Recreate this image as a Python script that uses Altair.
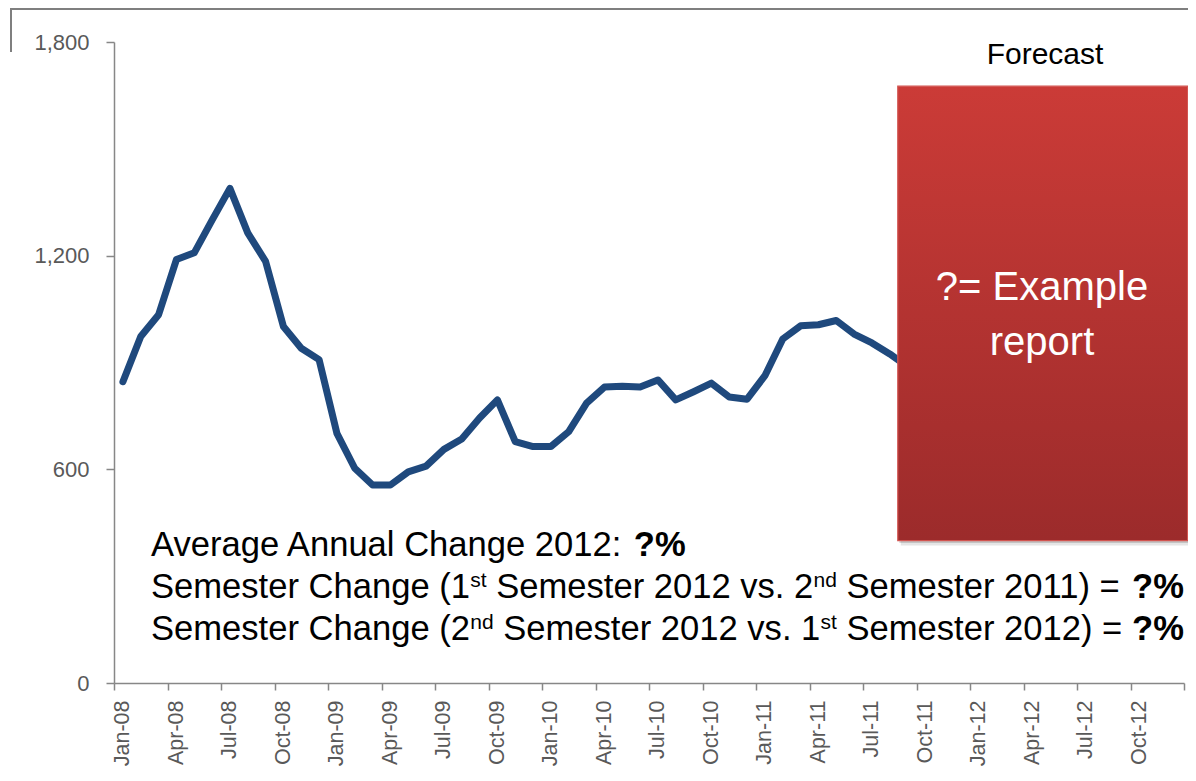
import json
import altair as alt
import pandas as pd

# ---------------- data ----------------
months = [
    "Jan-08", "Feb-08", "Mar-08", "Apr-08", "May-08", "Jun-08", "Jul-08", "Aug-08", "Sep-08", "Oct-08", "Nov-08", "Dec-08",
    "Jan-09", "Feb-09", "Mar-09", "Apr-09", "May-09", "Jun-09", "Jul-09", "Aug-09", "Sep-09", "Oct-09", "Nov-09", "Dec-09",
    "Jan-10", "Feb-10", "Mar-10", "Apr-10", "May-10", "Jun-10", "Jul-10", "Aug-10", "Sep-10", "Oct-10", "Nov-10", "Dec-10",
    "Jan-11", "Feb-11", "Mar-11", "Apr-11", "May-11", "Jun-11", "Jul-11", "Aug-11", "Sep-11",
]
values = [
    846, 973, 1034, 1189, 1208, 1300, 1389, 1264, 1184, 1001, 940, 908,
    701, 603, 556, 556, 593, 609, 656, 685, 744, 795, 678, 664,
    664, 706, 786, 831, 833, 831, 851, 795, 818, 842, 803, 797,
    863, 966, 1003, 1006, 1018, 980, 955, 924, 888,
]
tick_labels = [
    "Jan-08", "Apr-08", "Jul-08", "Oct-08", "Jan-09", "Apr-09", "Jul-09", "Oct-09",
    "Jan-10", "Apr-10", "Jul-10", "Oct-10", "Jan-11", "Apr-11", "Jul-11", "Oct-11",
    "Jan-12", "Apr-12", "Jul-12", "Oct-12",
]
y_ticks = [0, 600, 1200, 1800]
n_months_axis = 60  # Jan-08 .. Dec-12

df = pd.DataFrame({
    "month": months,
    "value": values,
    "pos": [i + 0.5 for i in range(len(months))],
})

# ---------------- styling / layout constants ----------------
W, H = 1070, 641
AXIS_FONT = "Liberation Sans, Arial"
TEXT_FONT = "Liberation Sans, Arial"
GREY = "#878787"
LABEL_GREY = "#595959"
LINE_BLUE = "#1F497D"

one = pd.DataFrame({"k": [0]})

label_expr = (
    f"datum.value < {n_months_axis} ? {json.dumps(tick_labels)}[round(datum.value / 3)] : ''"
)

x_enc = alt.X(
    "pos:Q",
    title=None,
    scale=alt.Scale(domain=[0, n_months_axis], nice=False, zero=False),
    axis=alt.Axis(
        values=list(range(0, n_months_axis + 1, 3)),
        labelExpr=label_expr,
        labelAngle=-90,
        labelAlign="right",
        labelBaseline="middle",
        labelOffset=8.9,
        labelPadding=10,
        labelFont=AXIS_FONT,
        labelFontSize=21.5,
        labelColor=LABEL_GREY,
        labelOverlap=False,
        tickSize=7,
        tickColor=GREY,
        tickWidth=1.5,
        domainColor=GREY,
        domainWidth=1.5,
        grid=False,
    ),
)
y_enc = alt.Y(
    "value:Q",
    title=None,
    scale=alt.Scale(domain=[0, 1800], nice=False),
    axis=alt.Axis(
        values=y_ticks,
        format=",.0f",
        labelFont=AXIS_FONT,
        labelFontSize=22,
        labelColor=LABEL_GREY,
        labelPadding=17,
        tickSize=8,
        tickColor=GREY,
        tickWidth=1.5,
        domainColor=GREY,
        domainWidth=1.5,
        grid=False,
    ),
)

line = alt.Chart(df).mark_line(
    color=LINE_BLUE, strokeWidth=7, strokeCap="round", strokeJoin="round"
).encode(x=x_enc, y=y_enc)

# forecast box (in data units)
box_df = pd.DataFrame({"x0": [43.95], "x1": [60.2], "y0": [400], "y1": [1676]})
shadow1 = alt.Chart(box_df).mark_rect(color="#000000", opacity=0.10, xOffset=3, yOffset=5, x2Offset=3, y2Offset=5).encode(
    x="x0:Q", x2="x1:Q", y="y0:Q", y2="y1:Q")
shadow2 = alt.Chart(box_df).mark_rect(color="#000000", opacity=0.15, xOffset=1.5, yOffset=2.5, x2Offset=1.5, y2Offset=2.5).encode(
    x="x0:Q", x2="x1:Q", y="y0:Q", y2="y1:Q")
box = alt.Chart(box_df).mark_rect(
    fill=alt.Gradient(
        gradient="linear",
        stops=[alt.GradientStop(color="#CB3B37", offset=0),
               alt.GradientStop(color="#9C2B2B", offset=1)],
        x1=0, x2=0, y1=0, y2=1,
    ),
    stroke="#D25450",
    strokeWidth=1.2,
).encode(x="x0:Q", x2="x1:Q", y="y0:Q", y2="y1:Q")

box_text = alt.Chart(one).mark_text(
    text=["?= Example", "report"], lineHeight=55, fontSize=40, font=TEXT_FONT,
    color="white", align="center", baseline="middle",
).encode(x=alt.value(928), y=alt.value(246))

forecast_lbl = alt.Chart(one).mark_text(
    text="Forecast", fontSize=30, font=TEXT_FONT, color="black",
    align="center", baseline="middle",
).encode(x=alt.value(931), y=alt.value(13))

# frame remnant at top-left
frame_h = alt.Chart(one).mark_rule(color="#7F7F7F", strokeWidth=2).encode(
    x=alt.value(-103), x2=alt.value(1090), y=alt.value(-33))
frame_v = alt.Chart(one).mark_rule(color="#7F7F7F", strokeWidth=2).encode(
    x=alt.value(-103), y=alt.value(-34), y2=alt.value(10))

# ---------------- bottom annotation text ----------------
ARIAL = {' ': 278, '(': 333, ')': 333, '=': 584, '?': 556, '%': 889, '.': 278, ':': 278,
         '-': 333, 'A': 667, 'C': 722, 'E': 667, 'S': 667,
         'a': 556, 'c': 500, 'd': 556, 'e': 556, 'g': 556, 'h': 556, 'i': 222, 'l': 222,
         'm': 833, 'n': 556, 'o': 556, 'p': 556, 'r': 333, 's': 500, 't': 278, 'u': 556,
         'v': 500, 'x': 500}
for d in "0123456789":
    ARIAL[d] = 556
ARIAL_BOLD = {'?': 611, '%': 889}

FS = 34.6
SUP_FS = 21
SUP_RAISE = 11


def tw(s, fs, bold=False):
    tab = ARIAL_BOLD if bold else ARIAL
    return sum(tab[c] for c in s) * fs / 1000.0


lines = [
    [("Average Annual Change 2012: ", "n"), ("?%", "b")],
    [("Semester Change (1", "n"), ("st", "s"), (" Semester 2012 vs. 2", "n"), ("nd", "s"),
     (" Semester 2011) = ", "n"), ("?%", "b")],
    [("Semester Change (2", "n"), ("nd", "s"), (" Semester 2012 vs. 1", "n"), ("st", "s"),
     (" Semester 2012) = ", "n"), ("?%", "b")],
]
x_start = 37
baselines = [514, 556, 598]

text_layers = []
for segs, yb in zip(lines, baselines):
    xc = x_start
    for txt, sty in segs:
        if sty == "n":
            fs, bold, yy = FS, False, yb
        elif sty == "b":
            fs, bold, yy = FS, True, yb
        else:
            fs, bold, yy = SUP_FS, False, yb - SUP_RAISE
        lead = len(txt) - len(txt.lstrip(" "))
        core = txt.strip(" ")
        x_draw = xc + tw(" " * lead, fs, bold)
        text_layers.append(
            alt.Chart(one).mark_text(
                text=core, fontSize=fs, font=TEXT_FONT, color="black",
                fontWeight="bold" if bold else "normal",
                align="left", baseline="alphabetic",
            ).encode(x=alt.value(x_draw), y=alt.value(yy))
        )
        xc += tw(txt, fs, bold)

chart = alt.layer(
    line, shadow1, shadow2, box, box_text, forecast_lbl, frame_h, frame_v, *text_layers
).properties(
    width=W,
    height=H,
    padding={"left": 106, "top": 34, "right": 4, "bottom": 86},
    autosize=alt.AutoSizeParams(type="none"),
    background="white",
).configure_view(stroke=None)

chart.save("out.html", embed_options={"renderer": "svg", "actions": False})
